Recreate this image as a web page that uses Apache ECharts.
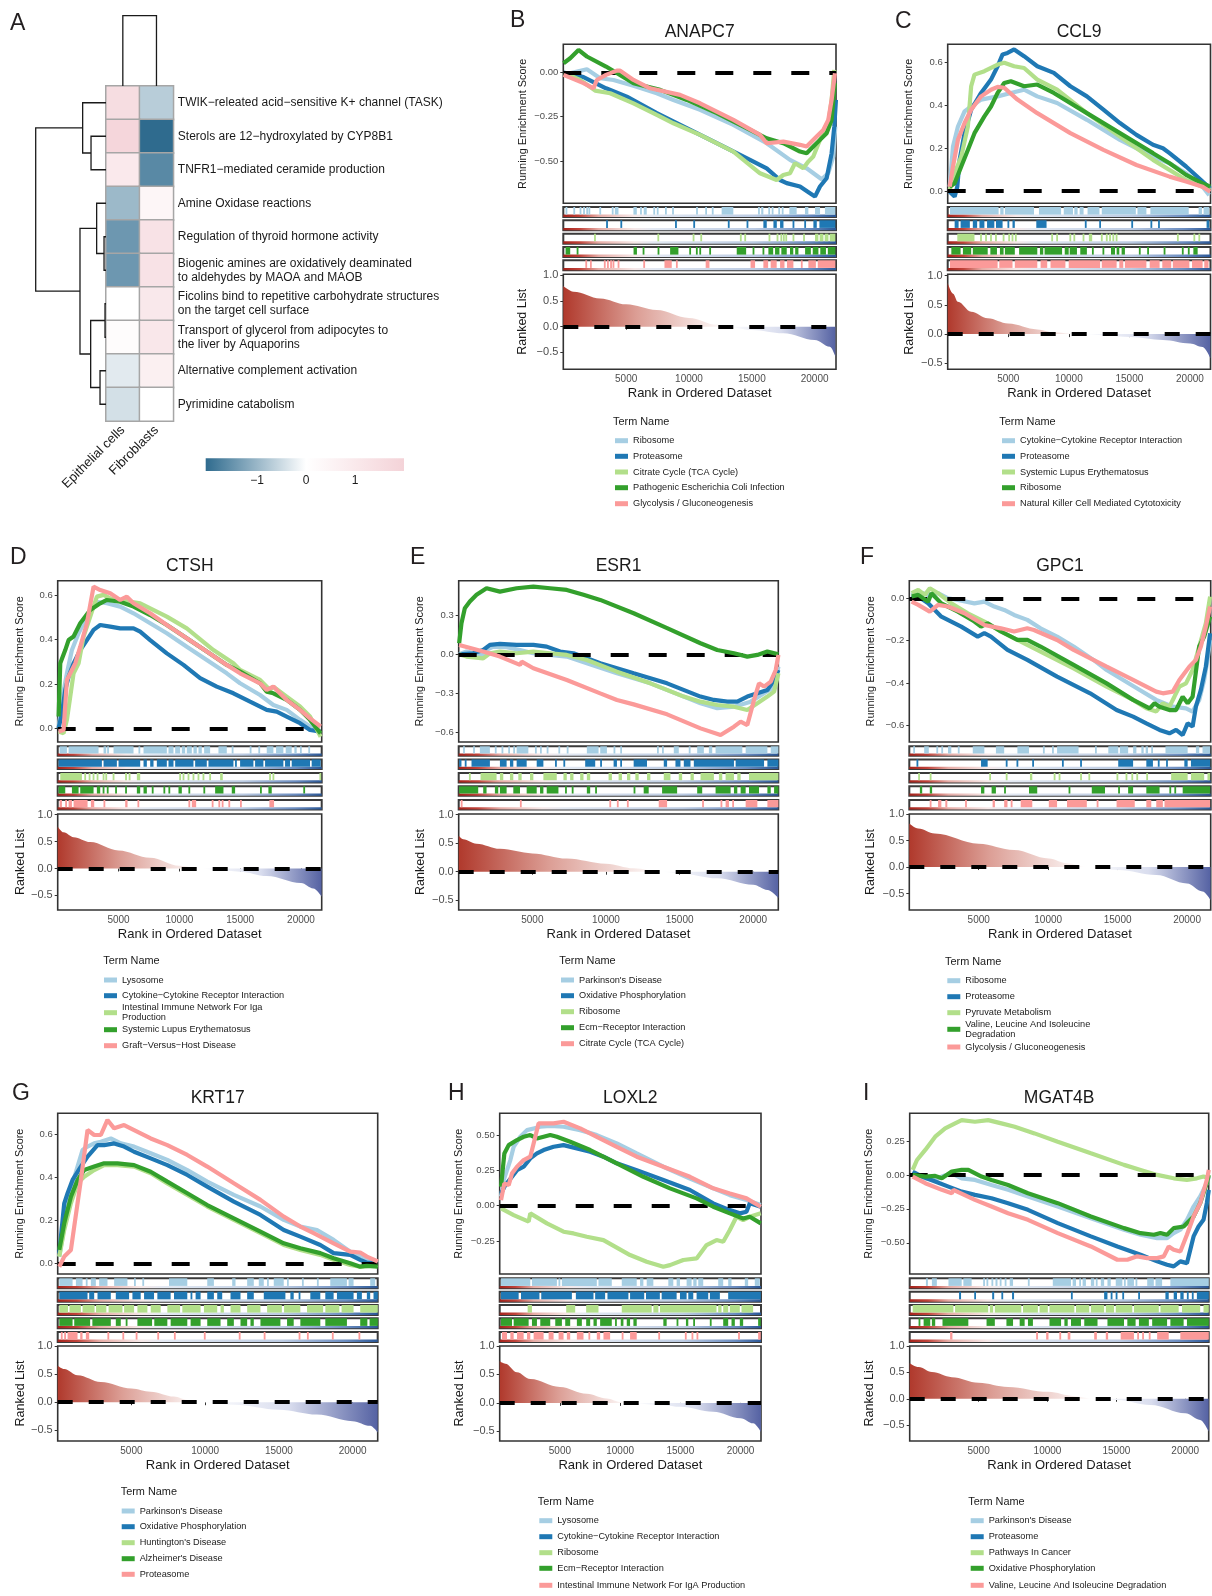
<!DOCTYPE html>
<html><head><meta charset="utf-8">
<script src="https://cdn.jsdelivr.net/npm/echarts@6/dist/echarts.min.js"></script>
<style>html,body{margin:0;padding:0;background:#fff}#c{width:1212px;height:1596px}</style>
</head><body><div id="c"></div>
<script>
// ================= DATA =================
// ---- Panel A: heatmap ----
const heatRows = [
 'TWIK\u2212releated acid\u2212sensitive K+ channel (TASK)',
 'Sterols are 12\u2212hydroxylated by CYP8B1',
 'TNFR1\u2212mediated ceramide production',
 'Amine Oxidase reactions',
 'Regulation of thyroid hormone activity',
 'Biogenic amines are oxidatively deaminated\nto aldehydes by MAOA and MAOB',
 'Ficolins bind to repetitive carbohydrate structures\non the target cell surface',
 'Transport of glycerol from adipocytes to\nthe liver by Aquaporins',
 'Alternative complement activation',
 'Pyrimidine catabolism'
];
const heatCols = ['Epithelial cells', 'Fibroblasts'];
const heatEpithelial = [1.55, 1.85, 1.0, -0.95, -1.4, -1.4, 0.02, 0.15, -0.28, -0.42];
const heatFibroblasts = [-0.68, -2.0, -1.6, 0.4, 1.3, 1.3, 1.05, 1.1, 0.7, 0.02];
// row dendrogram merges: [nodeA, nodeB, height]; leaves 0..9, merged nodes numbered from 10
const rowMerges = [[1,2,0.213],[0,10,0.332],[4,5,0.028],[3,12,0.133],[6,7,0.014],[8,9,0.085],[14,15,0.218],[13,16,0.370],[11,17,1.0]];
const colMerges = [[0,1,1.0]];
const colorbarTicks = [-1, 0, 1];
const colorbarRange = [-2.05, 2.0];

// ---- shared GSEA axis data ----
const X_MAX = 21700;
const X_TICKS = [5000, 10000, 15000, 20000];
const RANK_TICKS = [-0.5, 0, 0.5, 1.0];

// ---- Panel B: ANAPC7 ----
const B_terms = ['Ribosome','Proteasome','Citrate Cycle (TCA Cycle)','Pathogenic Escherichia Coli Infection','Glycolysis / Gluconeogenesis'];
const B_es = [
 [[19,-0.013],[1874,0.019],[2934,-0.032],[3994,-0.042],[5584,-0.075],[7439,-0.117],[8764,-0.155],[10884,-0.211],[13534,-0.296],[16184,-0.4],[18039,-0.494],[19364,-0.542],[20556,-0.604],[21086,-0.57],[21484,-0.475],[21643,-0.306]],
 [[19,0],[1608,-0.026],[3398,-0.089],[5054,-0.136],[7439,-0.23],[9824,-0.315],[12209,-0.4],[14859,-0.494],[16184,-0.542],[17244,-0.608],[17774,-0.626],[18834,-0.645],[19629,-0.683],[20026,-0.702],[20424,-0.645],[20954,-0.598],[21351,-0.457],[21563,-0.306],[21696,-0.155]],
 [[19,0],[1344,-0.042],[2536,-0.102],[3729,-0.117],[5584,-0.174],[7439,-0.24],[8764,-0.287],[10884,-0.353],[13534,-0.447],[15654,-0.57],[16979,-0.608],[17509,-0.58],[18039,-0.57],[18436,-0.513],[19099,-0.542],[19496,-0.504],[19894,-0.475],[20424,-0.381],[20821,-0.325],[21086,-0.287],[21351,-0.155],[21563,0.015]],
 [[19,0.053],[549,0.081],[1211,0.128],[1874,0.091],[3398,0.034],[5584,-0.06],[7704,-0.098],[9824,-0.155],[12209,-0.23],[14859,-0.325],[16184,-0.372],[17509,-0.4],[18834,-0.447],[19364,-0.457],[19894,-0.419],[20424,-0.381],[20954,-0.343],[21351,-0.268],[21616,-0.06]],
 [[19,-0.013],[1608,-0.06],[2404,-0.089],[2669,-0.042],[3398,-0.013],[4258,0.011],[4523,0.011],[5584,-0.042],[6909,-0.089],[9294,-0.126],[10884,-0.174],[13534,-0.268],[15654,-0.353],[16184,-0.4],[17509,-0.391],[18834,-0.409],[19364,-0.419],[20159,-0.362],[20689,-0.325],[21086,-0.268],[21351,-0.155],[21616,-0.004]]
];
const B_hits = [
 [[200,300],[820,920],[1340,1400],[1600,1700],[1850,1950],[2050,2100],[2900,2980],[3860,4000],[4100,4390],[5580,5850],[6110,6250],[6400,6640],[7170,7300],[7450,7570],[8100,8230],[8700,8760],[10600,10680],[11330,11400],[11860,11920],[12600,13530],[15520,15620],[15750,15920],[16320,16450],[16600,16710],[17110,17250],[17400,17510],[17990,18570],[19230,19500],[20030,20430],[20820,21650]],
 [[3440,3520],[4580,4650],[8930,9000],[10380,10450],[13130,13200],[14620,14690],[15920,16190],[16720,16990],[17250,17520],[18280,18350],[19210,19280],[19900,20170],[20380,21650]],
 [[2480,2560],[7520,7600],[10330,10400],[10940,11010],[14090,14160],[14440,14510],[16370,16440],[16990,17100],[17300,17400],[17500,17600],[17700,17780],[18280,18350],[19120,19190],[20030,20300],[20400,20700],[20800,21100],[21200,21650]],
 [[180,550],[1100,1170],[5590,5860],[6350,6420],[7540,7610],[8500,9160],[10060,10130],[10590,10660],[10860,10930],[11650,11720],[13800,14550],[15100,15170],[15890,15960],[16320,16700],[16850,17200],[17350,17780],[18040,18300],[18450,18710],[19240,19700],[19850,20300],[20450,20900],[21050,21650]],
 [[1790,1860],[2160,2230],[3250,3350],[3500,3600],[3750,3850],[3950,4030],[4360,4430],[6400,6470],[8050,8630],[9000,9070],[11330,11630],[14900,15260],[15920,16300],[16500,16980],[17250,17600],[17800,18310],[18940,19010],[19500,20100],[20250,21650]]
];
const B_rank = [[1,0.79],[814,0.68],[2934,0.55],[5000,0.435],[7439,0.325],[10000,0.17],[12209,0.04],[13000,0],[15000,-0.065],[17509,-0.13],[20000,-0.26],[21219,-0.39],[21650,-0.58]];

// ---- Panel C: CCL9 ----
const C_terms = ['Cytokine\u2212Cytokine Receptor Interaction','Proteasome','Systemic Lupus Erythematosus','Ribosome','Natural Killer Cell Mediated Cytotoxicity'];
const C_es = [
 [[164,0.02],[437,0.207],[846,0.3],[1392,0.37],[1938,0.393],[2757,0.425],[4122,0.44],[5214,0.456],[6306,0.471],[7398,0.44],[9036,0.409],[11493,0.331],[14223,0.238],[16953,0.16],[18318,0.129],[19683,0.082],[21048,0.02],[21594,-0.019]],
 [[164,-0.003],[573,-0.026],[792,0.02],[983,0.145],[1392,0.269],[1938,0.378],[2757,0.456],[3576,0.518],[4122,0.58],[4532,0.635],[4941,0.642],[5487,0.658],[6306,0.627],[7398,0.58],[8763,0.549],[10128,0.487],[11493,0.44],[12858,0.378],[14223,0.316],[15588,0.261],[16953,0.215],[17772,0.199],[18318,0.176],[19683,0.114],[21048,0.044],[21676,0.012]],
 [[164,0.005],[573,0.082],[1119,0.16],[1665,0.3],[1938,0.487],[2211,0.541],[3030,0.557],[4122,0.588],[4668,0.596],[5487,0.58],[6306,0.572],[7398,0.518],[9036,0.471],[11493,0.362],[14223,0.253],[16953,0.145],[19683,0.051],[21048,0.02],[21676,0.005]],
 [[164,0.02],[573,0.036],[1119,0.114],[1665,0.191],[2211,0.269],[3030,0.347],[3576,0.393],[4122,0.456],[4668,0.502],[5214,0.51],[6306,0.487],[7398,0.495],[8763,0.456],[11493,0.362],[14223,0.269],[16953,0.176],[18318,0.129],[19683,0.075],[21048,0.036],[21676,0.02]],
 [[164,0.02],[437,0.114],[846,0.238],[1392,0.316],[1938,0.378],[2757,0.44],[3576,0.471],[4122,0.484],[4668,0.48],[5760,0.425],[7398,0.362],[10128,0.269],[12858,0.191],[15588,0.121],[18318,0.067],[19683,0.044],[21048,0.02],[21676,-0.003]]
];
const C_hits = [
 [[191,4204],[4341,4614],[4723,7125],[7535,9364],[9582,10347],[10456,10729],[10893,11220],[11548,12531],[12722,15534],[15670,16407],[16735,19902],[20721,20994],[21130,21594]],
 [[573,901],[1065,1829],[2075,2430],[2621,3030],[3249,3849],[3986,4532],[4941,5078],[5351,5542],[7316,8163],[11357,11439],[12531,12640],[15179,15288],[16762,16871],[17390,17499],[21376,21594]],
 [[792,2211],[2700,2800],[3120,3210],[3530,3620],[3940,4030],[4570,4660],[5030,5120],[5300,5400],[5580,5670],[8580,8670],[8990,9080],[10080,10170],[10410,10500],[11170,11260],[11657,11930],[12680,12770],[13090,13180],[13360,13450],[13630,13720],[13900,13990],[18960,19050],[20320,20410],[20730,20820]],
 [[300,1065],[1256,1938],[2075,3303],[3522,4068],[4313,4614],[4723,5542],[5897,7398],[7617,7890],[7999,9446],[9664,9992],[10074,10674],[10947,11493],[11940,12030],[12810,12900],[13486,13814],[13950,14169],[14360,14633],[15820,15900],[16500,16590],[17860,17950],[19370,19450],[19860,19950],[20284,20639]],
 [[191,4122],[4259,5351],[5542,7398],[7671,8217],[8490,9719],[9992,12585],[12722,13950],[14169,14496],[14633,16407],[16680,17499],[17718,18455],[18591,19956],[20175,21048],[21185,21540]]
];
const C_rank = [[1,0.87],[437,0.69],[846,0.55],[1938,0.38],[3303,0.27],[4996,0.18],[7398,0.08],[8800,0.03],[10000,0.01],[11000,0],[12858,-0.02],[15097,-0.05],[17772,-0.1],[20011,-0.16],[21048,-0.22],[21690,-0.41]];

// ---- Panel D: CTSH ----
const D_terms = ['Lysosome','Cytokine\u2212Cytokine Receptor Interaction','Intestinal Immune Network For Iga\nProduction','Systemic Lupus Erythematosus','Graft\u2212Versus\u2212Host Disease'];
const D_es = [
 [[74,0],[348,0.128],[757,0.248],[1168,0.353],[1716,0.429],[2400,0.504],[3221,0.571],[4042,0.564],[5137,0.549],[6232,0.519],[7600,0.474],[8969,0.429],[10611,0.368],[12254,0.308],[13896,0.248],[14991,0.203],[16633,0.15],[17728,0.105],[18823,0.083],[19918,0.038],[20739,0.008],[21615,-0.023]],
 [[74,0],[348,0.068],[621,0.173],[895,0.233],[1305,0.293],[1853,0.353],[2400,0.398],[2948,0.444],[3495,0.466],[4316,0.459],[5137,0.451],[6232,0.451],[6779,0.436],[7600,0.398],[8969,0.338],[10337,0.286],[11706,0.226],[13074,0.188],[14443,0.158],[15811,0.12],[17180,0.083],[18001,0.075],[18823,0.053],[19918,0.023],[20739,-0.008],[21615,-0.015]],
 [[74,-0.015],[484,-0.023],[757,0.038],[1031,0.143],[1305,0.248],[1716,0.293],[2126,0.414],[2674,0.504],[3221,0.594],[3769,0.602],[4316,0.586],[5137,0.579],[6779,0.564],[8969,0.504],[10611,0.451],[12801,0.353],[14443,0.293],[14991,0.263],[16633,0.218],[17454,0.173],[17728,0.188],[18823,0.143],[19918,0.098],[20739,0.053],[21615,-0.038]],
 [[74,0.053],[211,0.293],[621,0.353],[895,0.398],[1305,0.414],[1853,0.474],[2674,0.534],[3495,0.564],[4042,0.579],[5137,0.571],[6232,0.549],[7600,0.511],[8969,0.466],[10611,0.406],[12254,0.346],[13896,0.286],[14991,0.256],[16633,0.203],[17180,0.165],[17728,0.158],[18823,0.128],[19918,0.083],[20739,0.038],[21615,-0.023]],
 [[74,-0.015],[484,-0.008],[757,0.218],[1031,0.248],[1442,0.293],[1853,0.368],[2400,0.474],[2948,0.639],[3495,0.624],[4316,0.609],[5137,0.579],[5684,0.594],[6232,0.564],[7600,0.519],[8969,0.466],[10611,0.406],[12254,0.346],[13896,0.286],[14991,0.248],[16633,0.203],[17180,0.173],[17728,0.188],[18001,0.173],[18823,0.128],[19918,0.083],[20739,0.045],[21615,0.008]]
];
const D_hits = [
 [[156,758],[895,3358],[3769,3988],[4097,4180],[4590,6233],[6644,6781],[7054,8970],[9107,9518],[9655,10065],[10202,10476],[10613,11024],[11160,11434],[11571,11845],[12036,12529],[13213,13898],[14308,14445],[15813,15900],[16498,16634],[17182,17729],[17948,18550],[18742,19235],[19454,19645],[19919,20056],[20604,20740]],
 [[74,3632],[3769,4864],[5001,6781],[7054,7328],[7602,7876],[8149,8970],[9107,9518],[9655,11160],[11297,12255],[12392,14445],[14582,14719],[14992,16087],[16224,16908],[17045,18550],[18687,19098],[19235,20740],[20877,21616]],
 [[211,1990],[2220,2300],[2580,2660],[2900,2990],[3230,3320],[3730,3810],[3950,4030],[4550,4630],[5548,5685],[5870,5950],[6507,6781],[10020,10110],[10300,10380],[10710,10790],[11120,11200],[11530,11610],[11940,12020],[12490,12570],[13350,13569],[17401,17510],[17690,17770],[21560,21616]],
 [[74,621],[1169,1716],[1853,2948],[3221,3495],[3714,3823],[4042,4179],[4727,4864],[5548,5685],[6507,6781],[7054,7328],[7739,7876],[8697,8834],[9107,9244],[9928,10202],[10750,10887],[11982,12118],[12940,13624],[14308,14582],[16635,16772],[17319,17593],[20193,20330]],
 [[156,348],[621,758],[895,1169],[1306,2455],[2729,3003],[3769,3906],[5548,5740],[6561,6698],[10750,10887],[11024,11380],[12666,12803],[13213,13350],[13487,13624],[14034,14171],[14992,15129],[17401,17784]]
];
const D_rank = [[1,0.78],[484,0.67],[1306,0.58],[2674,0.49],[5001,0.335],[7602,0.2],[10011,0.05],[11708,0],[13076,-0.03],[14992,-0.06],[17182,-0.14],[19999,-0.27],[21012,-0.37],[21690,-0.52]];

// ---- Panel E: ESR1 ----
const E_terms = ["Parkinson's Disease",'Oxidative Phosphorylation','Ribosome','Ecm\u2212Receptor Interaction','Citrate Cycle (TCA Cycle)'];
const E_es = [
 [[30,0],[529,0.021],[1664,-0.005],[1891,0.033],[2345,0.059],[3253,0.054],[4161,0.033],[5069,0.008],[6204,-0.005],[7339,-0.018],[8701,-0.069],[10744,-0.147],[13014,-0.224],[15284,-0.326],[16419,-0.378],[17554,-0.416],[18689,-0.404],[19824,-0.365],[20732,-0.3],[21299,-0.262],[21526,-0.198],[21708,-0.095]],
 [[30,0],[983,0.008],[1664,0.033],[2118,0.072],[2799,0.08],[3934,0.072],[5069,0.072],[5977,0.059],[6885,0.021],[7793,0.008],[9609,-0.069],[11879,-0.147],[14149,-0.224],[16419,-0.326],[17327,-0.352],[18235,-0.365],[18916,-0.365],[19597,-0.326],[20278,-0.301],[20959,-0.275],[21413,-0.198],[21708,-0.121]],
 [[30,0],[529,-0.018],[1664,-0.031],[2118,0.008],[2799,0.021],[3934,0.008],[5069,0.021],[6204,0.008],[7339,-0.005],[8701,-0.044],[10744,-0.134],[13014,-0.224],[15284,-0.326],[16419,-0.365],[17554,-0.391],[18689,-0.404],[19597,-0.429],[20278,-0.378],[20959,-0.326],[21413,-0.288],[21708,-0.147]],
 [[30,0.085],[188,0.239],[415,0.355],[756,0.406],[1210,0.458],[1891,0.509],[2799,0.483],[3934,0.509],[5069,0.522],[6204,0.509],[7339,0.496],[8474,0.458],[9609,0.419],[11879,0.316],[14149,0.201],[16419,0.085],[17554,0.033],[18689,0.008],[19597,-0.018],[20278,-0.005],[20959,0.021],[21708,0]],
 [[30,0.072],[1664,0.021],[2799,-0.018],[4161,-0.082],[4275,-0.057],[5069,-0.108],[7339,-0.198],[9609,-0.301],[10744,-0.352],[11879,-0.386],[14149,-0.463],[16419,-0.571],[17781,-0.622],[18689,-0.558],[19143,-0.519],[19597,-0.545],[20051,-0.352],[20391,-0.224],[20732,-0.249],[21186,-0.211],[21526,-0.121],[21708,-0.005]]
];
const E_hits = [
 [[302,415],[983,1096],[1437,2118],[2458,2572],[2913,3026],[3366,3480],[3707,3821],[3934,4729],[5183,5296],[5523,5637],[5977,6091],[6772,6885],[7339,7453],[8701,9496],[9609,10063],[10517,10631],[10971,11085],[13469,13582],[13809,13923],[14604,14944],[15625,15738],[16192,16646],[16987,17214],[17441,19257],[19484,20959],[21186,21708]],
 [[30,188],[415,529],[870,2118],[2799,3253],[3480,3707],[3934,4615],[5296,5750],[6545,6658],[7112,7226],[8588,9269],[9609,9723],[10517,10744],[10971,11085],[11879,12787],[13923,14149],[14717,15057],[15284,15738],[15965,18689],[18803,20732],[20959,21708]],
 [[711,802],[1483,2572],[2799,3026],[3480,3707],[4047,4275],[4842,5069],[5750,6658],[7112,7339],[7566,7793],[8247,8474],[8701,8928],[10176,10403],[10857,11085],[11425,11652],[11993,12220],[12787,13014],[13923,14377],[14944,15171],[15738,15965],[16419,17327],[17668,17895],[18122,18689],[18916,19143],[19710,21708]],
 [[30,1324],[1664,1891],[2458,2685],[2799,3253],[3707,4161],[4615,5296],[5523,5750],[5977,6772],[7226,7339],[7680,7793],[8701,8928],[9269,9382],[11879,11993],[12560,12900],[13809,14830],[16192,16533],[17441,18462],[18689,18916],[19143,19484],[19710,20391],[20959,21186],[21413,21708]],
 [[143,257],[4161,4275],[10233,10347],[10744,10857],[11425,11539],[13582,14149],[16533,16646],[17781,17895],[18122,18349],[18576,18689],[19484,20278],[20959,21708]]
];
const E_rank = [[1,0.63],[302,0.57],[1210,0.49],[2799,0.4],[5000,0.32],[7339,0.23],[10000,0.14],[11879,0.06],[13696,0],[15000,-0.03],[17554,-0.115],[20000,-0.23],[20959,-0.32],[21700,-0.46]];

// ---- Panel F: GPC1 ----
const F_terms = ['Ribosome','Proteasome','Pyruvate Metabolism','Valine, Leucine And Isoleucine\nDegradation','Glycolysis / Gluconeogenesis'];
const F_es = [
 [[167,0.016],[643,0.031],[1357,0.016],[2071,0.024],[2785,0],[3499,-0.008],[4689,-0.024],[5403,-0.016],[6117,-0.039],[6831,-0.055],[7545,-0.079],[8497,-0.102],[9449,-0.142],[10639,-0.181],[11829,-0.228],[13257,-0.291],[14209,-0.339],[15399,-0.386],[16589,-0.433],[17779,-0.48],[18969,-0.512],[19921,-0.52],[20397,-0.535],[20873,-0.48],[21230,-0.386],[21468,-0.291],[21658,-0.197]],
 [[167,0],[643,0.008],[1357,-0.024],[2309,-0.087],[3737,-0.134],[4927,-0.181],[5403,-0.165],[5879,-0.181],[7069,-0.244],[8497,-0.291],[10639,-0.37],[13019,-0.449],[14923,-0.528],[16113,-0.559],[17065,-0.591],[18017,-0.622],[18731,-0.638],[19207,-0.622],[19683,-0.646],[20040,-0.591],[20397,-0.606],[20635,-0.512],[20992,-0.433],[21349,-0.323],[21658,-0.165]],
 [[167,0.024],[643,0.039],[1119,0.016],[1476,0.047],[2071,0.024],[3023,-0.024],[4213,-0.071],[5403,-0.11],[6593,-0.157],[7783,-0.197],[9449,-0.252],[11829,-0.331],[14209,-0.417],[16113,-0.48],[17065,-0.52],[17779,-0.535],[18255,-0.496],[18731,-0.512],[19088,-0.465],[19445,-0.417],[19921,-0.402],[20397,-0.339],[20873,-0.228],[21349,-0.118],[21658,0.008]],
 [[167,0.008],[643,0.016],[1357,-0.016],[1595,0.024],[2309,-0.024],[3499,-0.063],[4689,-0.11],[5165,-0.134],[5641,-0.118],[6593,-0.157],[7783,-0.197],[8497,-0.197],[9449,-0.228],[11829,-0.315],[14209,-0.402],[16113,-0.48],[17303,-0.52],[17660,-0.496],[18017,-0.512],[18731,-0.528],[19207,-0.528],[19683,-0.465],[20040,-0.496],[20397,-0.465],[20873,-0.228],[21230,-0.181],[21658,-0.087]],
 [[167,-0.016],[643,-0.031],[1476,-0.063],[2071,-0.031],[2785,-0.039],[3975,-0.071],[5403,-0.126],[6593,-0.142],[7545,-0.157],[8497,-0.142],[8973,-0.15],[10639,-0.197],[11829,-0.244],[14209,-0.323],[16113,-0.386],[17779,-0.441],[18255,-0.449],[18969,-0.441],[19445,-0.386],[20159,-0.323],[20635,-0.291],[20992,-0.228],[21349,-0.134],[21658,-0.039]]
];
const F_hits = [
 [[286,405],[1071,1404],[1952,2071],[2309,2428],[2785,3023],[3499,3618],[4570,5403],[6236,6831],[7783,8616],[9639,9734],[10282,10401],[10639,12186],[13376,13495],[14328,15042],[15161,15756],[16113,16351],[16708,16874],[17017,17184],[17422,17541],[18445,20040],[20635,20873],[21111,21658]],
 [[524,643],[5165,5641],[6950,7069],[7735,7830],[8854,8973],[10996,11115],[12305,12424],[15042,16113],[17065,17541],[17898,18017],[18493,18612],[19802,20040],[20278,21658]],
 [[643,762],[1476,1595],[5760,5879],[6950,7069],[8687,8854],[10401,10520],[10758,10877],[12305,12424],[12900,13019],[14923,15042],[15589,15684],[15994,16113],[16351,16470],[17065,17184],[18850,20040],[20278,21230],[21468,21658]],
 [[762,928],[1476,1642],[5165,5403],[5926,6236],[6831,6950],[8616,9211],[11472,11591],[13138,14090],[15042,15161],[15756,16113],[17065,18017],[18731,18850],[19088,19207],[19683,21658]],
 [[1476,1595],[2071,2309],[2594,2737],[4022,4141],[5998,6164],[6831,7069],[7307,7426],[8021,8854],[10044,10639],[11353,12781],[13495,13614],[14923,16232],[17065,17422],[17779,18255],[18374,21658]]
];
const F_rank = [[1,0.82],[643,0.725],[1833,0.63],[4998,0.44],[7545,0.32],[10044,0.16],[11353,0.07],[12781,0],[15042,-0.056],[17779,-0.15],[19992,-0.31],[21111,-0.46],[21690,-0.62]];

// ---- Panel G: KRT17 ----
const G_terms = ["Parkinson's Disease",'Oxidative Phosphorylation',"Huntington's Disease","Alzheimer's Disease",'Proteasome'];
const G_es = [
 [[106,0.031],[331,0.124],[670,0.279],[1008,0.372],[1346,0.45],[1684,0.527],[2023,0.543],[2474,0.558],[2925,0.566],[3601,0.581],[4278,0.558],[5180,0.543],[6307,0.512],[7435,0.481],[8788,0.434],[10141,0.38],[11945,0.318],[13749,0.264],[15328,0.202],[16455,0.171],[17583,0.155],[18710,0.109],[19838,0.054],[20514,0.031],[20965,0.016],[21709,0]],
 [[106,0.047],[444,0.279],[670,0.326],[1008,0.388],[1572,0.45],[2023,0.496],[2699,0.55],[3150,0.55],[3827,0.558],[4503,0.543],[5180,0.519],[6307,0.488],[7435,0.457],[8788,0.411],[10141,0.357],[11945,0.287],[13749,0.225],[15328,0.155],[16455,0.124],[17808,0.085],[18710,0.047],[19838,0.039],[20514,0.016],[20965,0.003],[21709,0]],
 [[106,0.031],[444,0.155],[895,0.279],[1346,0.372],[1797,0.403],[2474,0.434],[3150,0.457],[4052,0.457],[5180,0.45],[6307,0.419],[7435,0.372],[8788,0.318],[10141,0.264],[11945,0.202],[13749,0.14],[15328,0.085],[16455,0.062],[17808,0.039],[18710,0.016],[19838,-0.008],[20514,-0.016],[21709,-0.008]],
 [[106,0.062],[444,0.186],[895,0.31],[1346,0.388],[1797,0.434],[2474,0.45],[3150,0.465],[4052,0.465],[5180,0.457],[6307,0.426],[7435,0.38],[8788,0.326],[10141,0.271],[11945,0.209],[13749,0.147],[15328,0.093],[16455,0.07],[17808,0.047],[18710,0.023],[19838,0],[20514,-0.016],[20965,-0.012],[21709,-0.016]],
 [[106,-0.016],[444,0.031],[895,0.062],[1121,0.171],[1572,0.388],[2023,0.62],[2474,0.597],[2925,0.597],[3376,0.667],[3827,0.628],[4503,0.643],[5180,0.62],[6307,0.581],[7435,0.55],[8788,0.504],[10141,0.45],[11945,0.372],[13749,0.295],[15328,0.217],[16455,0.171],[17357,0.14],[18710,0.093],[19838,0.054],[20514,0.05],[20965,0.031],[21709,0.008]]
];
const G_hits = [
 [[106,1008],[1233,1684],[1910,2023],[2248,2587],[2812,3376],[3827,4729],[5180,5293],[5744,5856],[7548,8788],[10141,10592],[11832,12058],[12847,13298],[13636,13975],[14200,14313],[14652,15328],[15553,15666],[16568,16681],[17583,17696],[18484,19612],[19725,20064],[21191,21530]],
 [[106,2023],[2136,2474],[2699,3601],[3940,4841],[5067,5630],[5856,6533],[6758,7660],[7886,8788],[9013,9126],[9352,9690],[10141,10592],[10818,11156],[11720,12396],[12847,13298],[13975,15441],[15779,16004],[16342,16455],[17132,17808],[18147,18710],[18936,20064],[20289,20627],[20965,21191],[21416,21709]],
 [[106,700],[800,1572],[1684,2500],[2600,3300],[3450,4391],[4503,5180],[5405,6082],[6307,6984],[7435,8300],[8450,9690],[9916,10818],[11043,11269],[11720,12396],[12847,13749],[14200,15200],[15350,16455],[16906,18000],[18150,19100],[19250,20064],[20514,21709]],
 [[106,1008],[1121,2200],[2350,3601],[3940,4278],[4616,4729],[5405,6400],[6550,7435],[7660,8788],[9013,9690],[10141,11043],[11494,11945],[12396,12847],[13072,13298],[13749,15102],[15553,16004],[16455,17808],[18147,19613],[20514,21000],[21150,21709]],
 [[219,331],[444,557],[670,1346],[1527,1684],[1910,2136],[3376,3488],[4391,4503],[5293,5405],[6758,6871],[7886,7999],[9916,10029],[12284,12396],[13975,14088],[16342,16455],[16906,17019],[18597,18710],[20402,20514]]
];
const G_rank = [[1,0.65],[444,0.59],[1346,0.48],[2925,0.36],[5000,0.244],[6307,0.186],[7886,0.1],[8788,0.04],[9690,0],[11945,-0.047],[15012,-0.134],[17583,-0.22],[19996,-0.337],[21191,-0.42],[21700,-0.54]];

// ---- Panel H: LOXL2 ----
const H_terms = ['Lysosome','Cytokine\u2212Cytokine Receptor Interaction','Ribosome','Ecm\u2212Receptor Interaction','Intestinal Immune Network For IgA Production'];
const H_es = [
 [[110,0.064],[331,0.182],[608,0.252],[884,0.323],[1160,0.417],[1712,0.488],[2265,0.535],[2817,0.547],[3370,0.559],[4198,0.564],[5303,0.559],[6684,0.535],[8065,0.5],[9722,0.441],[11379,0.37],[13589,0.276],[15799,0.193],[17732,0.123],[19113,0.075],[20494,0.04],[21682,0.005]],
 [[110,0.087],[470,0.146],[1022,0.205],[1436,0.252],[1989,0.276],[2541,0.335],[3093,0.37],[3646,0.394],[4474,0.417],[5303,0.429],[6408,0.406],[7513,0.382],[8617,0.347],[9722,0.3],[11379,0.252],[13589,0.182],[15799,0.111],[17732,0.017],[19113,-0.031],[19942,-0.054],[20494,-0.042],[20770,0.017],[21682,-0.007]],
 [[110,-0.019],[1160,-0.066],[2403,-0.113],[2541,-0.054],[3922,-0.125],[5303,-0.184],[6132,-0.196],[7236,-0.219],[8617,-0.243],[10827,-0.349],[12208,-0.396],[13589,-0.432],[14141,-0.42],[15246,-0.384],[16351,-0.373],[17180,-0.278],[18008,-0.243],[18561,-0.255],[19113,-0.172],[19665,-0.078],[20218,-0.101],[20770,-0.078],[21682,-0.054]],
 [[110,0.134],[387,0.37],[746,0.429],[1436,0.465],[1989,0.488],[2541,0.5],[3093,0.476],[3646,0.488],[4198,0.5],[4751,0.488],[5855,0.453],[7513,0.394],[9722,0.3],[11932,0.205],[14141,0.123],[16351,0.052],[17732,-0.007],[19113,-0.054],[20218,-0.09],[20770,-0.078],[21682,-0.125]],
 [[110,0.04],[387,0.158],[746,0.146],[1022,0.229],[1436,0.276],[1989,0.323],[2541,0.347],[2817,0.441],[3232,0.583],[3646,0.583],[4474,0.583],[5303,0.594],[6684,0.547],[8065,0.488],[9722,0.417],[11379,0.347],[13589,0.276],[15799,0.205],[17732,0.123],[19113,0.087],[20494,0.052],[21682,-0.007]]
];
const H_hits = [
 [[110,2541],[2679,4751],[4889,5027],[5165,8065],[8203,9308],[10137,11379],[11656,11932],[12208,12760],[14003,14417],[14694,14970],[15522,15937],[16075,16351],[16489,16903],[18146,18561],[18975,19251],[20356,20632],[21184,21599]],
 [[110,1574],[1768,3300],[3450,5994],[6325,7789],[7927,8755],[8949,10689],[10827,12000],[12150,13300],[13450,14694],[14970,15522],[15661,16075],[16351,17318],[17456,18284],[18975,21682]],
 [[2320,2679],[5524,6270],[7181,8203],[10137,12623],[12760,13175],[13313,18008],[18146,18423],[18561,18975],[19113,19942],[20080,21046]],
 [[110,1022],[1160,2403],[2679,3093],[3370,4198],[4613,5165],[5441,5855],[6408,6822],[7181,7513],[7789,8065],[8341,9308],[9584,9722],[10054,10275],[10551,10827],[11103,11379],[13589,13865],[14694,14832],[15467,15661],[16075,16213],[17456,17594],[18561,18975],[19251,19527],[19942,20218],[21461,21682]],
 [[193,608],[884,1160],[1436,1989],[2265,2541],[2817,3646],[4060,4474],[4889,5303],[5579,5855],[6408,6960],[7374,7513],[8065,8341],[8617,9170],[10137,10275],[10827,11379],[13175,13313],[15384,15522],[15937,16075],[16351,16489],[19803,19942],[21461,21682]]
];
const H_rank = [[1,0.73],[470,0.69],[1436,0.54],[2541,0.42],[5000,0.28],[7236,0.16],[8893,0.076],[9998,0.017],[10827,0],[13589,-0.04],[15000,-0.07],[17732,-0.157],[19997,-0.27],[21046,-0.36],[21690,-0.51]];

// ---- Panel I: MGAT4B ----
const I_terms = ["Parkinson's Disease",'Proteasome','Pathways In Cancer','Oxidative Phosphorylation','Valine, Leucine And Isoleucine Degradation'];
const I_es = [
 [[216,0.012],[1130,-0.025],[1851,-0.037],[2332,-0.012],[3053,0.012],[3774,-0.025],[4736,-0.037],[5938,-0.074],[7140,-0.11],[8582,-0.159],[10745,-0.233],[13149,-0.319],[15554,-0.404],[16756,-0.441],[17958,-0.466],[18679,-0.466],[19160,-0.429],[19641,-0.404],[20121,-0.331],[20602,-0.233],[21083,-0.159],[21564,-0.061],[21708,-0.012]],
 [[216,0.025],[889,-0.012],[1851,-0.049],[2813,-0.086],[3774,-0.123],[4736,-0.147],[5938,-0.172],[7140,-0.208],[8582,-0.257],[10745,-0.355],[13149,-0.453],[15073,-0.527],[16756,-0.588],[17958,-0.637],[18679,-0.662],[19160,-0.674],[19641,-0.637],[20121,-0.65],[20602,-0.453],[20963,-0.38],[21323,-0.331],[21564,-0.208],[21708,-0.11]],
 [[216,0.037],[529,0.11],[1130,0.184],[1851,0.282],[2572,0.343],[3293,0.38],[3774,0.404],[4736,0.392],[5697,0.404],[6659,0.38],[7621,0.355],[9063,0.306],[10745,0.245],[13149,0.159],[15554,0.074],[16756,0.037],[17958,0],[19160,-0.025],[20121,-0.037],[20842,-0.025],[21323,-0.012],[21708,-0.025]],
 [[216,0],[1130,-0.012],[1851,-0.007],[2332,-0.025],[3053,0.025],[3774,0.037],[4255,0.037],[5217,-0.012],[5938,-0.037],[7140,-0.074],[8582,-0.135],[10745,-0.208],[13149,-0.306],[15554,-0.392],[16756,-0.429],[17717,-0.441],[18198,-0.429],[18679,-0.441],[19160,-0.392],[19881,-0.38],[20602,-0.306],[21083,-0.208],[21564,-0.061],[21708,0]],
 [[216,-0.012],[1130,-0.061],[2332,-0.11],[3053,-0.135],[3173,-0.11],[4736,-0.184],[5938,-0.233],[7140,-0.282],[8582,-0.331],[10745,-0.429],[13149,-0.527],[15073,-0.625],[15794,-0.625],[16515,-0.6],[17237,-0.613],[17958,-0.613],[18439,-0.6],[18799,-0.527],[19160,-0.551],[19641,-0.564],[20121,-0.441],[20602,-0.306],[21083,-0.208],[21564,-0.037],[21708,0.037]]
];
const I_hits = [
 [[1178,1322],[1611,1971],[2813,3774],[3894,4495],[5337,5457],[5577,5697],[5938,6058],[6226,6371],[6539,6659],[6899,7020],[7260,7500],[8582,8702],[10385,11707],[11827,12068],[12308,12429],[12549,12789],[13150,13390],[13510,13631],[13871,14111],[14352,14592],[14953,15434],[15554,15674],[15794,16275],[16395,16515],[17237,17717],[17838,18318],[18919,21708]],
 [[3582,3726],[4688,4808],[5986,6130],[6659,6779],[7428,7573],[11707,11827],[14111,14352],[14592,14712],[14953,15073],[15434,15554],[16588,16708],[18559,18799],[19160,19400],[19641,19881],[20121,20241],[20482,20602],[20842,21708]],
 [[216,3173],[3293,5697],[5818,6058],[6178,8101],[8222,9303],[9424,10025],[10145,11948],[12068,13030],[13150,14111],[14232,14833],[14953,16155],[16275,18078],[18198,19520],[19761,21083],[21323,21708]],
 [[649,769],[1010,1490],[1611,1851],[2380,4255],[5577,6178],[7020,7500],[7981,8342],[8582,8943],[10145,10986],[11227,11467],[11707,12429],[12669,13631],[14352,15554],[15794,16395],[16636,17357],[17597,18679],[18919,19881],[20121,21708]],
 [[2933,3101],[9183,9303],[9904,10073],[10866,10986],[11467,11659],[13390,13583],[14232,14400],[15313,16275],[16515,16636],[16876,16996],[17357,17477],[17958,18799],[19641,21708]]
];
const I_rank = [[1,0.675],[649,0.6],[1611,0.506],[3053,0.41],[5000,0.306],[7140,0.225],[10049,0.131],[11948,0.05],[13390,0],[15049,-0.025],[17477,-0.119],[20001,-0.275],[21083,-0.4],[21700,-0.62]];

// ================= STYLE / LAYOUT =================
const FONT = 'Liberation Sans, Arial, Helvetica, sans-serif';
const ZW = '\u200b';
const TERM_COLORS = ['#a6cee3', '#1f78b4', '#b2df8a', '#33a02c', '#fb9a99'];
const TXT = '#1a1a1a', TICKTXT = '#4d4d4d', BORDER = '#333333';

const PANELS = [
 {letter:'B', gene:'ANAPC7', terms:B_terms, es:B_es, hits:B_hits, rank:B_rank,
  L:{x:563.3,w:272.7,esTop:44.3,esH:159,strips:[207,220.3,233.7,247,260.3],stripH:10,rankTop:274.3,rankH:95,es:[-0.74,0.16],esTicks:[-0.5,-0.25,0],esDec:2,rk:[-0.83,1.02],gapEs:35,gapRank:34,letterPos:[510,21],titlePos:[699.7,32],legTitle:[613,422],legX:615,legY:[440.7,456.3,472,487.7,503.7]}},
 {letter:'C', gene:'CCL9', terms:C_terms, es:C_es, hits:C_hits, rank:C_rank,
  L:{x:947.7,w:262.8,esTop:44.3,esH:159,strips:[207,220.3,233.7,247,260.3],stripH:10,rankTop:274.3,rankH:95,es:[-0.057,0.682],esTicks:[0,0.2,0.4,0.6],esDec:1,rk:[-0.60,1.02],gapEs:32.8,gapRank:31.4,letterPos:[895,22],titlePos:[1079.1,31.7],legTitle:[999.3,422],legX:1002,legY:[440.7,456.3,472,487.7,503.7]}},
 {letter:'D', gene:'CTSH', terms:D_terms, es:D_es, hits:D_hits, rank:D_rank,
  L:{x:57.7,w:264,esTop:580.7,esH:161.3,strips:[746.3,759.5,773,786.3,800],stripH:9.5,rankTop:814,rankH:96,es:[-0.062,0.666],esTicks:[0,0.2,0.4,0.6],esDec:1,rk:[-0.77,1.01],gapEs:32.1,gapRank:30.7,letterPos:[10,557.5],titlePos:[189.7,566],legTitle:[103.3,961],legX:104,legY:[980,995.7,1012.7,1029.7,1045.7]}},
 {letter:'E', gene:'ESR1', terms:E_terms, es:E_es, hits:E_hits, rank:E_rank,
  L:{x:458.7,w:319.6,esTop:580.7,esH:161.3,strips:[746.3,759.5,773,786.3,800],stripH:9.5,rankTop:814,rankH:96,es:[-0.676,0.567],esTicks:[-0.6,-0.3,0,0.3],esDec:1,rk:[-0.67,1.01],gapEs:33.1,gapRank:31.7,letterPos:[410,557.5],titlePos:[618.5,566],legTitle:[559.3,961],legX:561,legY:[980,995.7,1011.7,1027.7,1043.7]}},
 {letter:'F', gene:'GPC1', terms:F_terms, es:F_es, hits:F_hits, rank:F_rank,
  L:{x:909.3,w:301.4,esTop:580.7,esH:161.3,strips:[746.3,759.5,773,786.3,800],stripH:9.5,rankTop:814,rankH:96,es:[-0.679,0.083],esTicks:[-0.6,-0.4,-0.2,0],esDec:1,rk:[-0.81,1.0],gapEs:32.7,gapRank:32,letterPos:[860,557.5],titlePos:[1060,566],legTitle:[945,962.3],legX:947.3,legY:[980.7,996.7,1012.7,1029.3,1047]}},
 {letter:'G', gene:'KRT17', terms:G_terms, es:G_es, hits:G_hits, rank:G_rank,
  L:{x:57.7,w:320,esTop:1113.3,esH:160.7,strips:[1278.3,1291.7,1305,1318.3,1332],stripH:10,rankTop:1346,rankH:95,es:[-0.05,0.698],esTicks:[0,0.2,0.4,0.6],esDec:1,rk:[-0.69,1.0],gapEs:32.1,gapRank:30.7,letterPos:[12,1094],titlePos:[217.7,1097.7],legTitle:[120.7,1492.3],legX:121.7,legY:[1511,1526.7,1542.7,1558.7,1574.3]}},
 {letter:'H', gene:'LOXL2', terms:H_terms, es:H_es, hits:H_hits, rank:H_rank,
  L:{x:499.7,w:261.3,esTop:1113.3,esH:160.7,strips:[1278.3,1291.7,1305,1318.3,1332],stripH:10,rankTop:1346,rankH:95,es:[-0.483,0.654],esTicks:[-0.25,0,0.25,0.5],esDec:2,rk:[-0.67,1.0],gapEs:34.8,gapRank:33.4,letterPos:[448,1094],titlePos:[630.3,1098.3],legTitle:[537.7,1502.3],legX:539.3,legY:[1520.7,1536.7,1552.7,1568.3,1585.3]}},
 {letter:'I', gene:'MGAT4B', terms:I_terms, es:I_es, hits:I_hits, rank:I_rank,
  L:{x:909.7,w:299,esTop:1113.3,esH:160.7,strips:[1278.3,1291.7,1305,1318.3,1332],stripH:10,rankTop:1346,rankH:95,es:[-0.73,0.454],esTicks:[-0.5,-0.25,0,0.25],esDec:2,rk:[-0.80,1.0],gapEs:35.4,gapRank:34.1,letterPos:[863,1094],titlePos:[1059.2,1097.7],legTitle:[968.3,1502.3],legX:970.7,legY:[1520.7,1536.7,1552.7,1568.3,1585.3]}}
];

// ================= BUILD =================
const option = {
  animation: false, backgroundColor: '#ffffff',
  textStyle: {fontFamily: FONT},
  grid: [], xAxis: [], yAxis: [], series: [], legend: [], visualMap: [],
  graphic: {elements: []}
};
const G = option.graphic.elements;
function grid(g) { option.grid.push(g); return option.grid.length - 1; }
function axes(gi, x, y) { x.gridIndex = gi; y.gridIndex = gi; option.xAxis.push(x); option.yAxis.push(y); return [option.xAxis.length - 1, option.yAxis.length - 1]; }
function fmt(dec) { return v => (v < -1e-9 ? '\u2212' : '') + Math.abs(v).toFixed(dec); }
function txt(text, x, y, size, align, color) {
  G.push({type:'text', x:x, y:y, z:100, silent:true, style:{text:text, fontSize:size, fontFamily:FONT, fill:color || TXT,
    align:align || 'left', verticalAlign:'middle', textAlign:align || 'left', textVerticalAlign:'middle'}});
}
function zeroFrac(r) { for (const p of r) if (p[1] <= 0) return p[0] / X_MAX; return 0.5; }
const BAND = 0.24;
function hitRender(color) {
  return function (params, api) {
    const a = api.coord([api.value(0), 1]);
    const b = api.coord([api.value(1), BAND]);
    let x = a[0], w = b[0] - a[0];
    if (w < 1.8) { x -= (1.8 - w) / 2; w = 1.8; }
    return {type:'rect', shape:{x:x, y:a[1], width:w, height:b[1] - a[1]}, style:{fill:color}};
  };
}
function bandRender(params, api) {
  const a = api.coord([api.value(0), BAND]);
  const b = api.coord([api.value(1), 0]);
  return {type:'rect', shape:{x:a[0], y:a[1], width:b[0] - a[0], height:b[1] - a[1]},
    style:{fill:new echarts.graphic.LinearGradient(0, 0, 1, 0, [
      {offset:0, color:'#a3231c'}, {offset:0.06, color:'#c0433a'}, {offset:0.13, color:'#e6aca6'},
      {offset:0.26, color:'#f6e8e8'}, {offset:0.33, color:'#e3e9f3'}, {offset:0.7, color:'#bccbe2'},
      {offset:0.9, color:'#6a8cc0'}, {offset:1, color:'#2b5796'}])}};
}
const zeroLine = (w, dash) => ({silent:true, symbol:['none','none'], label:{show:false}, emphasis:{disabled:true},
  lineStyle:{color:'#000', width:w, type:dash}, data:[{yAxis:0}]});

PANELS.forEach((P, idx) => {
  const L = P.L;
  const suffix = ZW.repeat(idx + 1);
  // ---- running enrichment score ----
  const gE = grid({left:L.x, top:L.esTop, width:L.w, height:L.esH, show:true, borderColor:BORDER, borderWidth:1.6, backgroundColor:'#fff'});
  const aE = axes(gE, {type:'value', min:0, max:X_MAX, show:false},
    {type:'value', min:L.es[0], max:L.es[1], splitLine:{show:false}, axisLine:{show:false},
     axisTick:{show:true, length:3, lineStyle:{color:BORDER, width:1}, customValues:L.esTicks},
     axisLabel:{fontSize:9.5, color:TICKTXT, margin:5, customValues:L.esTicks, formatter:fmt(L.esDec)},
     name:'Running Enrichment Score', nameLocation:'middle', nameGap:L.gapEs, nameTextStyle:{fontSize:10.9, color:TXT}});
  P.es.forEach((d, k) => {
    const s = {type:'line', name:P.terms[k] + suffix, xAxisIndex:aE[0], yAxisIndex:aE[1], data:d,
      symbol:'none', showSymbol:false, silent:true, z:2 + k,
      lineStyle:{width:4.2, color:TERM_COLORS[k]}, itemStyle:{color:TERM_COLORS[k]}};
    if (k === 4) s.markLine = zeroLine(4, [18, 20]);
    option.series.push(s);
  });
  // ---- hit strips ----
  L.strips.forEach((top, k) => {
    const gS = grid({left:L.x, top:top, width:L.w, height:L.stripH, show:true, borderColor:'#3a3a3a', borderWidth:2, backgroundColor:'#fff'});
    const aS = axes(gS, {type:'value', min:0, max:X_MAX, show:false}, {type:'value', min:0, max:1, show:false});
    option.series.push({type:'custom', xAxisIndex:aS[0], yAxisIndex:aS[1], data:[[0, X_MAX, 0]], encode:{x:[0,1], y:2},
      renderItem:bandRender, silent:true, z:1});
    option.series.push({type:'custom', xAxisIndex:aS[0], yAxisIndex:aS[1], data:P.hits[k].map(h => [h[0], h[1], 0]),
      encode:{x:[0,1], y:2}, renderItem:hitRender(TERM_COLORS[k]), silent:true, z:2});
  });
  // ---- ranked list ----
  const z0 = zeroFrac(P.rank);
  const gR = grid({left:L.x, top:L.rankTop, width:L.w, height:L.rankH, show:true, borderColor:BORDER, borderWidth:1.6, backgroundColor:'#fff'});
  const aR = axes(gR,
    {type:'value', min:0, max:X_MAX, splitLine:{show:false}, axisLine:{show:false},
     axisTick:{show:true, length:3, lineStyle:{color:BORDER, width:1}, customValues:X_TICKS},
     axisLabel:{fontSize:10, color:TICKTXT, margin:5, customValues:X_TICKS, formatter:v => String(v)},
     name:'Rank in Ordered Dataset', nameLocation:'middle', nameGap:18, nameTextStyle:{fontSize:13, color:TXT}},
    {type:'value', min:L.rk[0], max:L.rk[1], splitLine:{show:false}, axisLine:{show:false},
     axisTick:{show:true, length:3, lineStyle:{color:BORDER, width:1}, customValues:RANK_TICKS},
     axisLabel:{fontSize:11, color:TICKTXT, margin:5, customValues:RANK_TICKS, formatter:fmt(1)},
     name:'Ranked List', nameLocation:'middle', nameGap:L.gapRank, nameTextStyle:{fontSize:12.5, color:TXT}});
  option.series.push({type:'line', xAxisIndex:aR[0], yAxisIndex:aR[1], data:P.rank, symbol:'none', showSymbol:false,
    smooth:0.35, smoothMonotone:'x', silent:true, lineStyle:{width:0},
    areaStyle:{opacity:1, color:new echarts.graphic.LinearGradient(0, 0, 1, 0, [
      {offset:0, color:'#b0392c'}, {offset:z0 * 0.45, color:'#dc9e95'}, {offset:z0, color:'#ffffff'},
      {offset:z0 + (1 - z0) * 0.5, color:'#d9ddee'}, {offset:1, color:'#5562a3'}])},
    markLine:zeroLine(4, [15, 16])});
  // ---- legend (one component per item) ----
  P.terms.forEach((t, k) => {
    const lines = t.split('\n').length;
    option.legend.push({data:[t + suffix], left:L.legX, top:L.legY[k] - lines * 5, orient:'vertical', padding:0,
      itemWidth:13, itemHeight:5, icon:'rect', selectedMode:false, itemStyle:{borderWidth:0},
      textStyle:{fontSize:9.2, color:TXT, lineHeight:10, fontFamily:FONT},
      formatter:n => n.replace(/\u200b/g, '')});
  });
  txt('Term Name', L.legTitle[0], L.legTitle[1], 10.9, 'left');
  txt(P.letter, L.letterPos[0], L.letterPos[1], 23, 'left', '#231f20');
  txt(P.gene, L.titlePos[0], L.titlePos[1], 17.5, 'center');
});

// ---- Panel A ----
txt('A', 10, 23.5, 23, 'left', '#231f20');
const gH = grid({left:106, top:86, width:67.3, height:335});
const aH = axes(gH,
  {type:'category', data:heatCols, position:'bottom', axisLine:{show:false}, axisTick:{show:false}, splitLine:{show:false},
   axisLabel:{rotate:45, fontSize:13, color:TXT, margin:7, interval:0}},
  {type:'category', data:heatRows, inverse:true, position:'right', axisLine:{show:false}, axisTick:{show:false}, splitLine:{show:false},
   axisLabel:{fontSize:12, color:TXT, margin:4.5, lineHeight:14, align:'left', interval:0}});
const heatData = [];
heatRows.forEach((r, i) => { heatData.push([0, i, heatEpithelial[i]]); heatData.push([1, i, heatFibroblasts[i]]); });
option.series.push({type:'heatmap', xAxisIndex:aH[0], yAxisIndex:aH[1], data:heatData, silent:true,
  itemStyle:{borderColor:'#a6a6a6', borderWidth:1.5}});
const heatIdx = option.series.length - 1;
option.visualMap.push({type:'continuous', show:false, seriesIndex:[heatIdx], dimension:2, min:-2, max:2,
  inRange:{color:['#2f6b8e', '#ffffff', '#f4d3d8']}});

// row dendrogram
const gRD = grid({left:35.7, top:86, width:70.3, height:335});
const aRD = axes(gRD, {type:'value', min:0, max:1, inverse:true, show:false}, {type:'value', min:-0.5, max:heatRows.length - 0.5, inverse:true, show:false});
const nodeY = heatRows.map((_, i) => i), nodeH = heatRows.map(() => 0), rowLines = [];
rowMerges.forEach(([a, b, h]) => {
  rowLines.push({coords:[[nodeH[a], nodeY[a]], [h, nodeY[a]], [h, nodeY[b]], [nodeH[b], nodeY[b]]]});
  nodeY.push((nodeY[a] + nodeY[b]) / 2); nodeH.push(h);
});
option.series.push({type:'lines', coordinateSystem:'cartesian2d', xAxisIndex:aRD[0], yAxisIndex:aRD[1], polyline:true, silent:true,
  data:rowLines, lineStyle:{color:TXT, width:1.3, opacity:1}});
// column dendrogram
const gCD = grid({left:106, top:15.7, width:67.3, height:70.3});
const aCD = axes(gCD, {type:'value', min:-0.5, max:heatCols.length - 0.5, show:false}, {type:'value', min:0, max:1, show:false});
const colLines = colMerges.map(([a, b, h]) => ({coords:[[a, 0], [a, h], [b, h], [b, 0]]}));
option.series.push({type:'lines', coordinateSystem:'cartesian2d', xAxisIndex:aCD[0], yAxisIndex:aCD[1], polyline:true, silent:true,
  data:colLines, lineStyle:{color:TXT, width:1.3, opacity:1}});
// colour bar
const gCB = grid({left:205.7, top:458.3, width:198.3, height:12.7});
const aCB = axes(gCB,
  {type:'value', min:colorbarRange[0], max:colorbarRange[1], splitLine:{show:false}, axisLine:{show:false}, axisTick:{show:false},
   axisLabel:{fontSize:12, color:TXT, margin:4, customValues:colorbarTicks, formatter:fmt(0)}},
  {type:'value', min:0, max:1, show:false});
const zc = (0 - colorbarRange[0]) / (colorbarRange[1] - colorbarRange[0]);
option.series.push({type:'custom', xAxisIndex:aCB[0], yAxisIndex:aCB[1], data:[[colorbarRange[0], colorbarRange[1], 0]], encode:{x:[0,1], y:2}, silent:true,
  renderItem:function (params, api) {
    const a = api.coord([api.value(0), 1]), b = api.coord([api.value(1), 0]);
    return {type:'rect', shape:{x:a[0], y:a[1], width:b[0] - a[0], height:b[1] - a[1]},
      style:{fill:new echarts.graphic.LinearGradient(0, 0, 1, 0, [{offset:0, color:'#2f6b8e'}, {offset:zc, color:'#ffffff'}, {offset:1, color:'#f4d3d8'}])}};
  }});

const chart = echarts.init(document.getElementById('c'), null, {renderer:'canvas', width:1212, height:1596});
chart.setOption(option);
</script>
</body></html>
